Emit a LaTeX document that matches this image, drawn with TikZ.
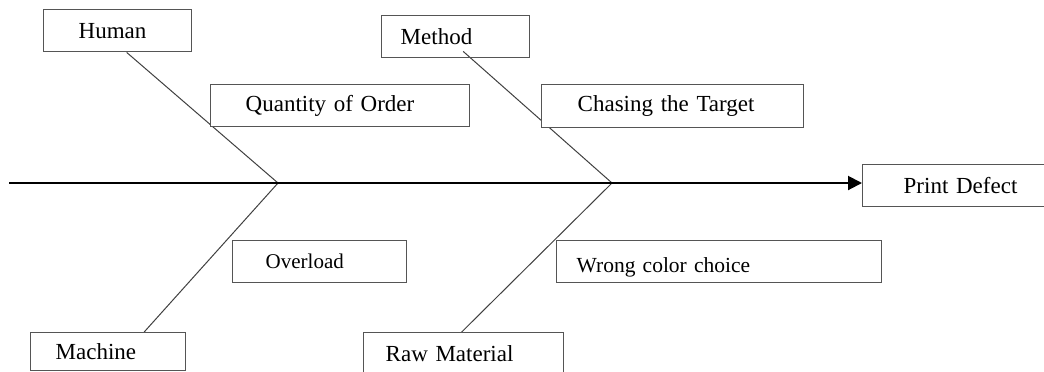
\documentclass[tikz,border=0pt]{standalone}
\usepackage{fontspec}
\setmainfont{Liberation Serif}
\usetikzlibrary{arrows.meta, backgrounds, calc}
\definecolor{boxgray}{HTML}{555555}
\definecolor{bonegray}{HTML}{404040}
\tikzstyle{cause} = [draw=boxgray, line width=0.7pt, rectangle, fill=white, anchor=north west, align=left, minimum height=21pt, font=\fontsize{11.5}{14}\selectfont]
\tikzstyle{bone} = [draw=bonegray, line width=0.5pt]
\tikzstyle{spine} = [-{Triangle[length=7pt, width=7pt]}, line width=1pt]
\begin{document}
\begin{tikzpicture}[x=0.5pt, y=-0.5pt]
    \clip (0,0) rectangle (1044,371);

    % Causes above the spine.
    \node (human) [cause, text width=39pt, inner xsep=17.5pt] at (43,9) {Human};
    \node (order) [cause, text width=94.5pt, inner xsep=17.5pt] at (210,84) {Quantity of Order};
    \node (method) [cause, fill=none, text width=55pt, inner xsep=9.5pt] at (381,15) {Method};
    \node (target) [cause, text width=95pt, inner xsep=18pt, minimum height=21.5pt] at (541,84) {Chasing the Target};

    % Causes below the spine.
    \node (machine) [cause, text width=52.5pt, inner xsep=12.5pt, minimum height=19pt] at (30,332) {Machine};
    \node (overload) [cause, font=\fontsize{10.5}{12}\selectfont, text width=54pt, inner xsep=16.5pt] at (232,240) {Overload};
    \node (material) [cause, text width=78pt, inner xsep=11pt] at (363,332) {Raw Material};
    \node (color) [cause, font=\fontsize{10.75}{13}\selectfont, text width=142.5pt, inner xsep=10pt,
        text height=11pt, text depth=0pt] at (556,240) {Wrong color choice};

    % Effect.
    \node (defect) [cause, text width=70pt, inner xsep=20.5pt] at (862,164) {Print Defect};

    % Spine.
    \coordinate (tail) at (9,183);
    \coordinate (joint1) at (278,183);
    \coordinate (joint2) at (612,183);

    % Bones.
    \begin{scope}[on background layer]
        \draw [bone] ($(human.south west)!0.56!(human.south east)$) -- (joint1);
        \draw [bone] ($(machine.north west)!0.73!(machine.north east)$) -- (joint1);
        \draw [bone] ($(method.south west)!0.55!(method.south east) + (0,-7)$) -- (joint2);
        \draw [bone] ($(material.north west)!0.49!(material.north east)$) -- (joint2);
    \end{scope}
    \draw [spine] (tail) -- (defect.west |- joint2);
\end{tikzpicture}
\end{document}
